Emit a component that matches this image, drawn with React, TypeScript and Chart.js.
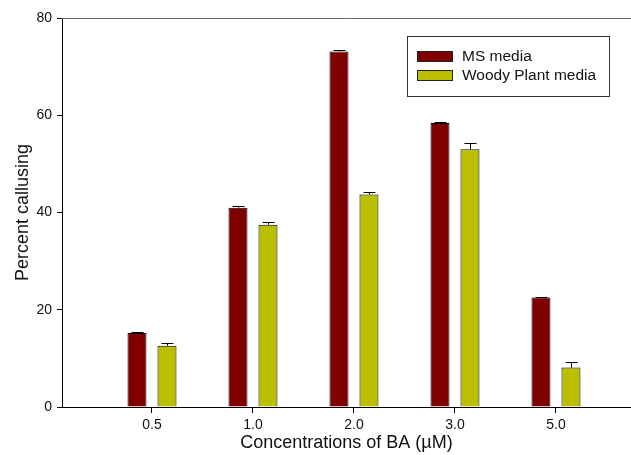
import React, { useEffect, useRef } from "react";
import { Chart, registerables } from "chart.js";

Chart.register(...registerables);

const categories = ["0.5", "1.0", "2.0", "3.0", "5.0"];
const msValues = [15.2, 41.0, 73.1, 58.4, 22.5];
const msErrors = [0.3, 0.3, 0.4, 0.15, 0.15];
const woodyValues = [12.6, 37.5, 43.7, 53.0, 8.1];
const woodyErrors = [0.5, 0.6, 0.55, 1.3, 1.2];
const yTicks = [0, 20, 40, 60, 80];
const seriesNames = ["MS media", "Woody Plant media"];

const MS_COLOR = "#800000";
const WOODY_COLOR = "#BBBF00";
const FONT = "'Liberation Sans', Arial, sans-serif";

const errorBarPlugin = {
  id: "errorBars",
  afterDatasetsDraw(chart: any) {
    const ctx = chart.ctx;
    const yScale = chart.scales.y;
    const errs = [msErrors, woodyErrors];
    const vals = [msValues, woodyValues];
    ctx.save();
    ctx.strokeStyle = "#000";
    ctx.lineWidth = 1;
    chart.data.datasets.forEach((ds: any, di: number) => {
      const meta = chart.getDatasetMeta(di);
      meta.data.forEach((el: any, i: number) => {
        const top = yScale.getPixelForValue(vals[di][i] + errs[di][i]);
        const x = Math.round(el.x) + 0.5;
        const yb = el.y;
        const yt = Math.round(top) + 0.5;
        ctx.beginPath();
        ctx.moveTo(x, yb);
        ctx.lineTo(x, yt);
        ctx.moveTo(x - 6, yt);
        ctx.lineTo(x + 6, yt);
        ctx.stroke();
      });
    });
    ctx.restore();
  },
};

const framePlugin = {
  id: "frameAndLegend",
  afterDraw(chart: any) {
    const ctx = chart.ctx;
    const area = chart.chartArea;
    ctx.save();
    ctx.strokeStyle = "#666";
    ctx.lineWidth = 1;
    ctx.beginPath();
    ctx.moveTo(area.left, Math.round(area.top) + 0.5);
    ctx.lineTo(area.right, Math.round(area.top) + 0.5);
    ctx.stroke();
    ctx.fillStyle = "#fff";
    ctx.fillRect(407, 36, 202, 60);
    ctx.strokeStyle = "#333";
    ctx.strokeRect(407.5, 36.5, 202, 60);
    const colors = [MS_COLOR, WOODY_COLOR];
    const ys = [51, 70];
    ctx.font = "15.5px " + FONT;
    ctx.textBaseline = "middle";
    ctx.textAlign = "left";
    seriesNames.forEach((name, i) => {
      ctx.fillStyle = colors[i];
      ctx.fillRect(417, ys[i], 36, 11);
      ctx.strokeStyle = "#222";
      ctx.strokeRect(417.5, ys[i] + 0.5, 35, 10);
      ctx.fillStyle = "#111";
      ctx.fillText(name, 462, ys[i] + 6);
    });
    ctx.restore();
  },
};

export default function App() {
  const ref = useRef<HTMLCanvasElement>(null);
  useEffect(() => {
    if (!ref.current) return;
    const chart = new Chart(ref.current, {
      type: "bar",
      data: {
        datasets: [
          {
            label: seriesNames[0],
            data: msValues.map((v, i) => ({ x: i + 1, y: v })),
            backgroundColor: MS_COLOR,
            borderColor: "#000",
            borderWidth: 1,
          },
          {
            label: seriesNames[1],
            data: woodyValues.map((v, i) => ({ x: i + 1, y: v })),
            backgroundColor: WOODY_COLOR,
            borderColor: "#000",
            borderWidth: 1,
          },
        ],
      },
      options: {
        animation: false,
        responsive: false,
        devicePixelRatio: 1,
        layout: { padding: { left: 0, top: 18, right: 0, bottom: 0 } },
        datasets: { bar: { categoryPercentage: 0.594, barPercentage: 0.633 } },
        plugins: { legend: { display: false }, tooltip: { enabled: false } },
        scales: {
          x: {
            type: "linear",
            min: 0.109,
            max: 5.743,
            offset: false,
            afterFit: (s: any) => {
              s.height = 48;
            },
            afterBuildTicks: (s: any) => {
              s.ticks = categories.map((_, i) => ({ value: i + 1 }));
            },
            ticks: {
              callback: (v: any) => categories[Math.round(Number(v)) - 1] ?? "",
              color: "#111",
              font: { size: 14, family: FONT },
              padding: 4,
              maxRotation: 0,
              autoSkip: false,
            },
            grid: {
              offset: false,
              drawOnChartArea: false,
              color: "#000",
              tickColor: "#000",
              tickLength: 6,
            },
            border: { display: true, color: "#000", width: 1 },
            title: {
              display: true,
              text: "Concentrations of BA (µM)",
              color: "#111",
              font: { size: 18, family: FONT },
              padding: { top: 0, bottom: 1 },
            },
          },
          y: {
            min: 0,
            max: 80,
            afterFit: (s: any) => {
              s.width = 62;
            },
            afterBuildTicks: (s: any) => {
              s.ticks = yTicks.map((v) => ({ value: v }));
            },
            ticks: {
              color: "#111",
              font: { size: 14, family: FONT },
              padding: 5,
            },
            grid: {
              drawOnChartArea: false,
              color: "#000",
              tickColor: "#000",
              tickLength: 5,
            },
            border: { display: true, color: "#000", width: 1 },
            title: {
              display: true,
              text: "Percent callusing",
              color: "#111",
              font: { size: 18, family: FONT },
              padding: { top: 12, bottom: 0 },
            },
          },
        },
      },
      plugins: [errorBarPlugin, framePlugin],
    } as any);
    return () => chart.destroy();
  }, []);
  return (
    <canvas
      ref={ref}
      width={631}
      height={455}
      style={{ position: "absolute", left: 0, top: 0, width: 631, height: 455 }}
    />
  );
}
